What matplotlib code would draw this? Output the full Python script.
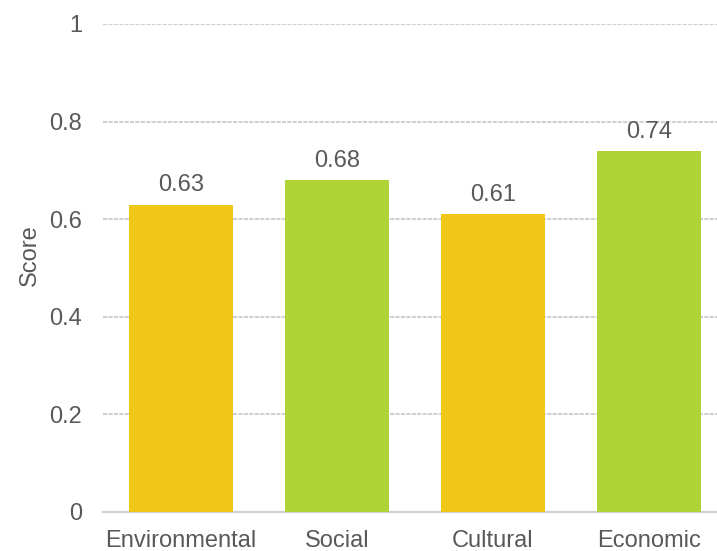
import matplotlib.pyplot as plt

plt.rcParams['font.family'] = ['Liberation Sans', 'DejaVu Sans']

categories = ['Environmental', 'Social', 'Cultural', 'Economic']
scores = [0.63, 0.68, 0.61, 0.74]
bar_colors = ['#F0C619', '#AFD235', '#F0C619', '#AFD235']
yticks = [0, 0.2, 0.4, 0.6, 0.8, 1]
ytick_labels = ['0', '0.2', '0.4', '0.6', '0.8', '1']

text_color = '#595959'
grid_color = '#D0D0D0'

fig = plt.figure(figsize=(7.17, 5.51), dpi=100)
ax = fig.add_axes([103 / 717, 1 - 512 / 551, 624 / 717, 488 / 551])

x = range(len(categories))
bars = ax.bar(x, scores, width=0.665, color=bar_colors, zorder=3)

# etiquetas encima de las barras
for xi, v in zip(x, scores):
    ax.text(xi, v + 0.017, f'{v:.2f}', ha='center', va='bottom',
            fontsize=17, color=text_color)

ax.set_xlim(-0.5, 3.5)
ax.set_ylim(0, 1)
ax.set_yticks(yticks)
ax.set_yticklabels(ytick_labels)
ax.set_xticks(list(x))
ax.set_xticklabels(categories)
ax.tick_params(axis='both', length=0, labelsize=17, labelcolor=text_color)
ax.tick_params(axis='y', pad=15)
ax.tick_params(axis='x', pad=13)

ax.yaxis.grid(True, color=grid_color, linewidth=1.5, linestyle=(0, (2, 0.6)), zorder=0)
for side in ['top', 'right', 'left']:
    ax.spines[side].set_visible(False)
ax.spines['bottom'].set_color(grid_color)
ax.spines['bottom'].set_linewidth(1.5)

ax.set_ylabel('Score', fontsize=17, color=text_color, va='center')
ax.yaxis.set_label_coords(-0.117, 0.527)

fig.savefig('out.png', dpi=100)
